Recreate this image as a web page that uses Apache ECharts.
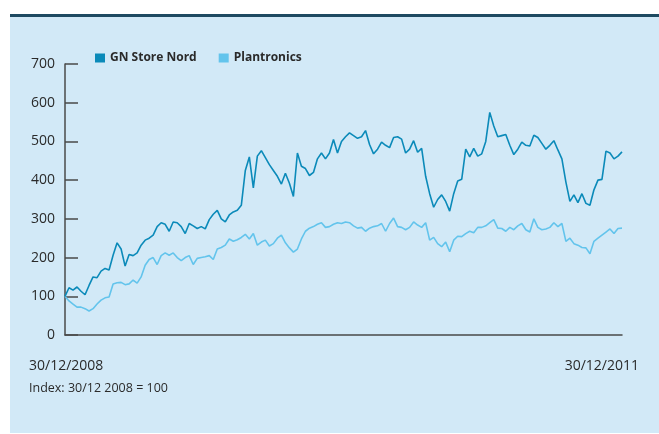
<!DOCTYPE html>
<html>
<head>
<meta charset="utf-8">
<script src="https://cdn.jsdelivr.net/npm/echarts@6/dist/echarts.min.js"></script>
<style>
html,body{margin:0;padding:0;background:#ffffff;}
#chart{width:659px;height:434px;}
</style>
</head>
<body>
<div id="chart"></div>
<script>
// Index values (30/12 2008 = 100), roughly weekly samples
var gnStoreNord = [100,122,116,124,113,104,128,150,148,165,172,168,206,238,222,178,208,205,212,232,245,250,258,280,290,286,268,292,290,280,262,288,282,275,280,274,298,312,322,300,292,310,318,322,335,425,460,380,462,476,458,440,425,410,390,418,392,358,470,436,430,412,420,455,470,455,470,505,470,500,512,522,515,508,512,528,492,468,480,498,490,484,510,512,506,470,480,502,472,482,410,365,330,350,362,345,320,365,398,402,480,460,482,462,468,500,575,540,512,515,518,490,466,480,498,490,488,516,510,495,480,490,502,478,455,395,345,362,342,365,340,335,375,400,402,475,470,455,462,473];
var plantronics = [100,88,80,72,72,68,62,68,80,90,96,98,132,135,136,130,132,142,134,150,180,195,200,182,205,212,206,212,200,192,200,205,182,198,200,202,205,195,222,226,232,248,242,246,252,260,248,262,232,240,245,230,236,250,258,238,225,214,222,248,268,276,280,286,290,278,280,286,290,288,292,290,282,276,278,268,276,280,282,288,268,288,302,280,278,272,278,292,284,278,290,245,252,236,228,240,215,245,255,254,262,268,264,278,278,282,290,298,276,275,268,278,272,282,288,272,266,300,278,272,274,278,290,280,288,242,250,236,232,226,225,210,242,250,258,266,274,262,275,276];
var seriesNames = ['GN Store Nord', 'Plantronics'];
var yTicks = [0, 100, 200, 300, 400, 500, 600, 700];
var dateLabels = ['30/12/2008', '30/12/2011'];
var noteText = 'Index: 30/12 2008 = 100';

var n = Math.max(gnStoreNord.length, plantronics.length);
var categories = [];
for (var i = 0; i < n; i++) { categories.push('w' + i); }

var chart = echarts.init(document.getElementById('chart'));
var fontFam = '"Open Sans", "Noto Sans", sans-serif';
chart.setOption({
  animation: false,
  backgroundColor: '#ffffff',
  graphic: [
    { type: 'rect', z: -10, shape: { x: 10, y: 17, width: 649, height: 416 }, style: { fill: '#d2e9f7' } },
    { type: 'rect', z: -9, shape: { x: 10, y: 14, width: 649, height: 3 }, style: { fill: '#1e4a61' } },
    { type: 'text', left: 29, top: 359, style: { text: dateLabels[0], font: '14px ' + fontFam, fill: '#2a2a2a' } },
    { type: 'text', right: 20, top: 359, style: { text: dateLabels[1], font: '14px ' + fontFam, fill: '#2a2a2a' } },
    { type: 'text', left: 29, top: 382, style: { text: noteText, font: '12.5px ' + fontFam, fill: '#2a2a2a' } }
  ],
  legend: {
    left: 90, top: 47,
    itemWidth: 10, itemHeight: 9, itemGap: 22,
    icon: 'rect',
    textStyle: { fontFamily: fontFam, fontWeight: 'bold', fontSize: 12, color: '#2a2a2a' },
    data: seriesNames
  },
  grid: { left: 65, right: 37, top: 64, bottom: 99, containLabel: false },
  xAxis: {
    type: 'category',
    data: categories,
    boundaryGap: false,
    axisLine: { lineStyle: { color: '#4a4a4a', width: 1.5 } },
    axisTick: { show: false },
    axisLabel: { show: false },
    splitLine: { show: false }
  },
  yAxis: {
    type: 'value',
    min: yTicks[0], max: yTicks[yTicks.length - 1], interval: 100,
    axisLine: { show: true, lineStyle: { color: '#4a4a4a', width: 1.5 } },
    axisTick: { show: true, inside: true, length: 13, lineStyle: { color: '#4a4a4a', width: 1.5 } },
    axisLabel: { margin: 10, fontFamily: fontFam, fontSize: 14, color: '#2a2a2a', padding: [8, 0, 0, 0] },
    splitLine: { show: false }
  },
  series: [
    { name: seriesNames[0], type: 'line', data: gnStoreNord, symbol: 'none', color: '#0b8ab9', lineStyle: { width: 1.6 }, z: 3 },
    { name: seriesNames[1], type: 'line', data: plantronics, symbol: 'none', color: '#63c4ec', lineStyle: { width: 1.6 }, z: 2 }
  ]
});
</script>
</body>
</html>
